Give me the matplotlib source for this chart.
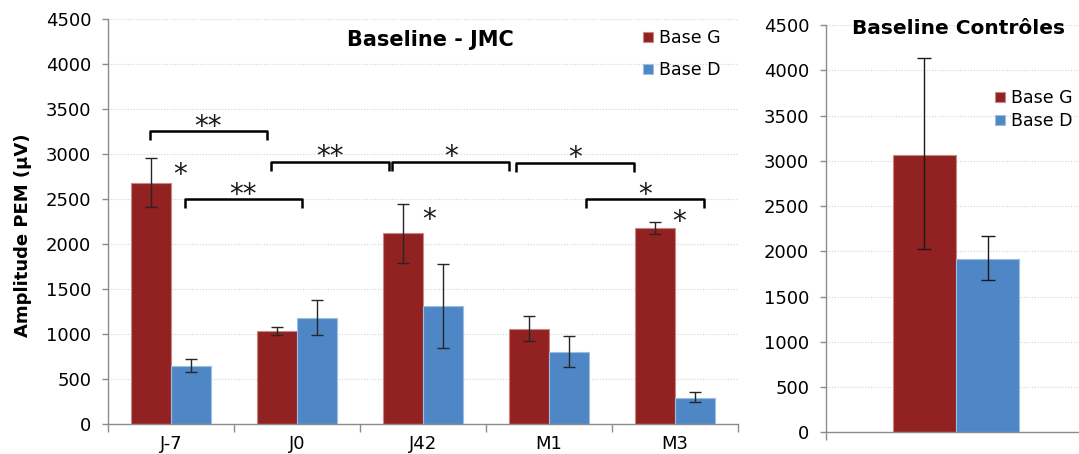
import matplotlib
matplotlib.use("Agg")
import matplotlib.pyplot as plt
import numpy as np

# ---------------- data ----------------
categories = ['J-7', 'J0', 'J42', 'M1', 'M3']
base_g = [2674, 1030, 2119, 1059, 2174]
base_g_low = [2411, 985, 1793, 926, 2111]
base_g_high = [2952, 1074, 2441, 1196, 2241]
base_d = [650, 1178, 1307, 800, 293]
base_d_low = [578, 985, 841, 630, 241]
base_d_high = [722, 1374, 1781, 974, 359]

ctrl_label = ['']
ctrl_g = [3069]
ctrl_g_low = [2023]
ctrl_g_high = [4130]
ctrl_d = [1920]
ctrl_d_low = [1680]
ctrl_d_high = [2167]

# significance brackets: (x start, x end, level, label)
brackets = [
    (-0.167, 0.76, 3256, '**'),
    (0.109, 1.037, 2500, '**'),
    (0.79, 1.73, 2915, '**'),
    (1.757, 2.686, 2915, '*'),
    (2.738, 3.677, 2905, '*'),
    (3.29, 4.23, 2500, '*'),
]
# single stars: (x, y)
stars = [(0.07, 2811), (2.05, 2303), (4.03, 2286)]

yticks = [0, 500, 1000, 1500, 2000, 2500, 3000, 3500, 4000, 4500]

RED = '#922121'
BLUE = '#4F87C6'
RED_EDGE = '#c98888'
BLUE_EDGE = '#9dbde2'
GRID = '#d4d4d4'
SPINE = '#8c8c8c'

plt.rcParams['font.family'] = ['DejaVu Sans']

fig = plt.figure(figsize=(10.79, 4.54), dpi=100)

W, H = 1079, 454
axL = fig.add_axes([108 / W, 1 - 424 / H, 630 / W, 405 / H])
axR = fig.add_axes([826 / W, 1 - 432.3 / H, 260 / W, 407.3 / H])


def style(ax):
    ax.set_ylim(0, 4500)
    ax.set_yticks(yticks)
    ax.tick_params(axis='y', labelsize=13, direction='out', length=4,
                   color=SPINE, width=1, pad=8)
    ax.grid(axis='y', color=GRID, linestyle=(0, (1, 1.5)), linewidth=0.8)
    ax.set_axisbelow(True)
    for s in ['top', 'right']:
        ax.spines[s].set_visible(False)
    for s in ['left', 'bottom']:
        ax.spines[s].set_color(SPINE)
        ax.spines[s].set_linewidth(1)


# ---------------- left panel ----------------
x = np.arange(len(categories))
bw = 0.317
eg = [np.array(base_g) - np.array(base_g_low), np.array(base_g_high) - np.array(base_g)]
ed = [np.array(base_d) - np.array(base_d_low), np.array(base_d_high) - np.array(base_d)]
axL.bar(x - bw / 2, base_g, bw, color=RED, edgecolor=RED_EDGE, linewidth=0.8,
        label='Base G', zorder=2)
axL.bar(x + bw / 2, base_d, bw, color=BLUE, edgecolor=BLUE_EDGE, linewidth=0.8,
        label='Base D', zorder=2)
axL.errorbar(x - bw / 2, base_g, yerr=eg, fmt='none', ecolor='#262626',
             elinewidth=1, capsize=4.5, capthick=1, zorder=3)
axL.errorbar(x + bw / 2, base_d, yerr=ed, fmt='none', ecolor='#262626',
             elinewidth=1, capsize=4.5, capthick=1, zorder=3)
style(axL)
axL.set_xlim(-0.5, len(categories) - 0.5)
axL.set_xticks(x)
axL.set_xticklabels(categories)
axL.tick_params(axis='x', which='major', length=0, labelsize=13, pad=8)
axL.set_xticks(np.arange(len(categories) + 1) - 0.5, minor=True)
axL.tick_params(axis='x', which='minor', length=6, direction='out',
                color=SPINE, width=1)
fig.text(23 / W, 1 - 235 / H, 'Amplitude PEM (µV)', rotation=90,
         ha='center', va='center', fontsize=13, fontweight='bold')

drop = 100
for x1, x2, lvl, lab in brackets:
    axL.plot([x1, x1, x2, x2], [lvl - drop, lvl, lvl, lvl - drop],
             color='black', lw=1.8, solid_capstyle='butt', zorder=4)
    axL.text((x1 + x2) / 2, lvl - 40, lab, ha='center', va='baseline',
             fontsize=20, color='#1a1a1a', zorder=4)
for sx, sy in stars:
    axL.text(sx, sy - 130, '*', ha='center', va='baseline', fontsize=20,
             color='#1a1a1a', zorder=4)

axL.text(0.511, 0.948, 'Baseline - JMC', transform=axL.transAxes,
         ha='center', va='center', fontsize=15, fontweight='bold')
axL.legend(loc='upper left', bbox_to_anchor=(643 / W, 1 - 29 / H),
           bbox_transform=fig.transFigure, frameon=False, fontsize=12.5,
           handlelength=0.55, handleheight=0.55, handletextpad=0.4,
           labelspacing=0.8, borderpad=0, borderaxespad=0)

# ---------------- right panel ----------------
xr = np.arange(len(ctrl_label))
bwr = 0.243
egr = [np.array(ctrl_g) - np.array(ctrl_g_low), np.array(ctrl_g_high) - np.array(ctrl_g)]
edr = [np.array(ctrl_d) - np.array(ctrl_d_low), np.array(ctrl_d_high) - np.array(ctrl_d)]
axR.bar(xr - bwr / 2, ctrl_g, bwr, color=RED, edgecolor=RED_EDGE, linewidth=0.8,
        label='Base G', zorder=2)
axR.bar(xr + bwr / 2, ctrl_d, bwr, color=BLUE, edgecolor=BLUE_EDGE, linewidth=0.8,
        label='Base D', zorder=2)
axR.errorbar(xr - bwr / 2, ctrl_g, yerr=egr, fmt='none', ecolor='#1a1a1a',
             elinewidth=1, capsize=5, capthick=1, zorder=3)
axR.errorbar(xr + bwr / 2, ctrl_d, yerr=edr, fmt='none', ecolor='#1a1a1a',
             elinewidth=1, capsize=5, capthick=1, zorder=3)
style(axR)
axR.set_xlim(-0.5, 0.5)
axR.set_xticks([-0.5, 0.5])
axR.set_xticklabels(['', ''])
axR.tick_params(axis='x', length=6, direction='out', color=SPINE, width=1)
fig.text(958 / W, 1 - 28 / H, 'Baseline Contrôles', ha='center', va='center',
         fontsize=14.5, fontweight='bold')
axR.legend(loc='upper left', bbox_to_anchor=(995 / W, 1 - 89 / H),
           bbox_transform=fig.transFigure, frameon=False, fontsize=12.5,
           handlelength=0.55, handleheight=0.55, handletextpad=0.35,
           labelspacing=0.3, borderpad=0, borderaxespad=0)

fig.savefig('out.png', dpi=100)
